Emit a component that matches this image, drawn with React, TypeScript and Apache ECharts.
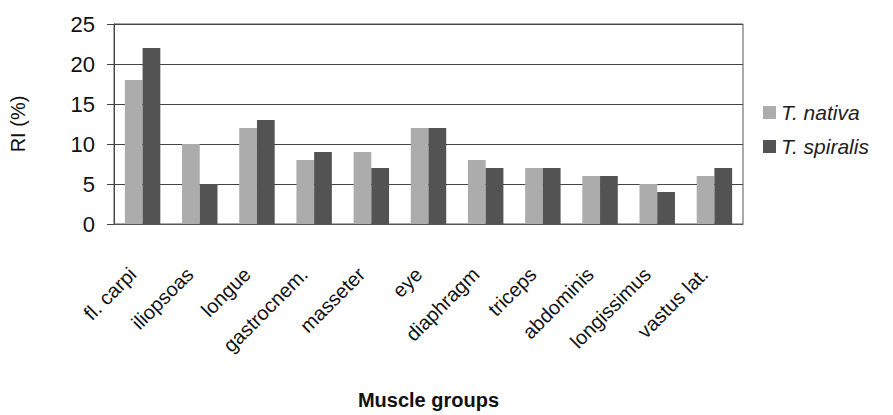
import React, { useEffect, useRef } from "react";
import * as echarts from "echarts";

const categories = [
  "fl. carpi",
  "iliopsoas",
  "longue",
  "gastrocnem.",
  "masseter",
  "eye",
  "diaphragm",
  "triceps",
  "abdominis",
  "longissimus",
  "vastus lat.",
];
const nativa = [18, 10, 12, 8, 9, 12, 8, 7, 6, 5, 6];
const spiralis = [22, 5, 13, 9, 7, 12, 7, 7, 6, 4, 7];
const yTicks = { min: 0, max: 25, interval: 5 };

export default function App() {
  const ref = useRef<HTMLDivElement>(null);
  useEffect(() => {
    if (!ref.current) return;
    const chart = echarts.init(ref.current, null, { renderer: "svg" });
    const font = "Liberation Sans, Arial, sans-serif";
    chart.setOption({
      animation: false,
      backgroundColor: "#ffffff",
      grid: {
        left: 114,
        right: 150,
        top: 24,
        bottom: 191,
        show: true,
        borderColor: "#555",
        borderWidth: 1,
        containLabel: false,
        outerBoundsMode: "none",
      },
      legend: {
        orient: "vertical",
        left: 758,
        top: 97,
        itemWidth: 13,
        itemHeight: 13,
        itemGap: 13,
        icon: "rect",
        textStyle: {
          fontFamily: font,
          fontStyle: "italic",
          fontSize: 21,
          color: "#222",
        },
        data: ["T. nativa", "T. spiralis"],
      },
      xAxis: {
        type: "category",
        data: categories,
        name: "Muscle groups",
        nameLocation: "middle",
        nameGap: 166,
        nameTextStyle: {
          fontFamily: font,
          fontWeight: "bold",
          fontSize: 20,
          color: "#111",
        },
        axisLine: { show: true, lineStyle: { color: "#555", width: 1 } },
        axisTick: { show: false },
        axisLabel: {
          rotate: 45,
          interval: 0,
          margin: 37,
          padding: [0, 14, 0, 0],
          fontFamily: font,
          fontSize: 20,
          color: "#111",
        },
      },
      yAxis: {
        type: "value",
        min: yTicks.min,
        max: yTicks.max,
        interval: yTicks.interval,
        name: "RI (%)",
        nameLocation: "middle",
        nameGap: 86,
        nameRotate: 90,
        nameTextStyle: { fontFamily: font, fontSize: 20, color: "#111" },
        axisLine: { show: true, lineStyle: { color: "#444", width: 1 } },
        axisTick: {
          show: true,
          inside: false,
          length: 7,
          lineStyle: { color: "#444" },
        },
        axisLabel: {
          margin: 19,
          fontFamily: font,
          fontSize: 22,
          color: "#111",
        },
        splitLine: { show: true, lineStyle: { color: "#444", width: 1 } },
      },
      series: [
        {
          name: "T. nativa",
          type: "bar",
          data: nativa,
          barGap: "0%",
          barCategoryGap: "38%",
          itemStyle: { color: "#acacac" },
        },
        {
          name: "T. spiralis",
          type: "bar",
          data: spiralis,
          itemStyle: { color: "#535353" },
        },
      ],
    });
    return () => chart.dispose();
  }, []);
  return (
    <div
      ref={ref}
      style={{ position: "fixed", left: 0, top: 0, width: 893, height: 415 }}
    />
  );
}
